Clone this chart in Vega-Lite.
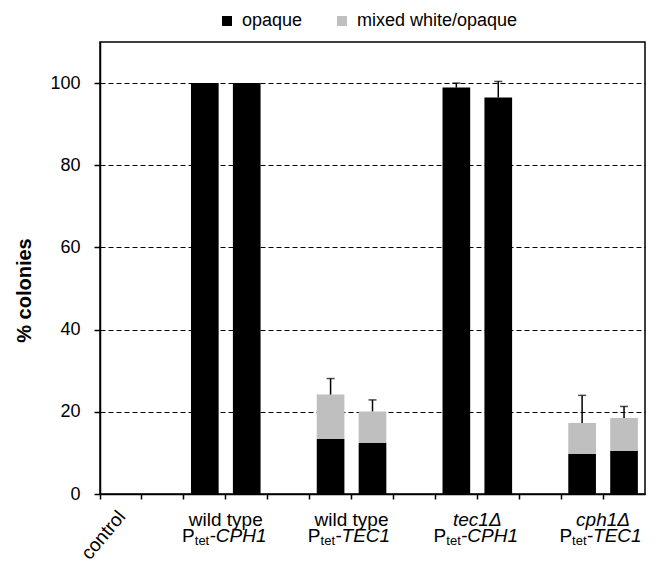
{
  "$schema": "https://vega.github.io/schema/vega-lite/v6.json",
  "width": 545,
  "height": 452,
  "autosize": {"type": "none"},
  "padding": {"left": 100, "top": 42, "right": 11, "bottom": 68},
  "background": "white",
  "config": {
    "view": {"stroke": "#000000", "strokeWidth": 1.5},
    "font": "Liberation Sans"
  },
  "datasets": {
    "bars": [
      {"cat": "control-1", "type": "opaque", "value": 0},
      {"cat": "control-1", "type": "mixed white/opaque", "value": 0},
      {"cat": "control-2", "type": "opaque", "value": 0},
      {"cat": "control-2", "type": "mixed white/opaque", "value": 0},
      {"cat": "wtCPH1-1", "type": "opaque", "value": 100},
      {"cat": "wtCPH1-1", "type": "mixed white/opaque", "value": 0},
      {"cat": "wtCPH1-2", "type": "opaque", "value": 100},
      {"cat": "wtCPH1-2", "type": "mixed white/opaque", "value": 0},
      {"cat": "wtTEC1-1", "type": "opaque", "value": 13.4},
      {"cat": "wtTEC1-1", "type": "mixed white/opaque", "value": 10.8},
      {"cat": "wtTEC1-2", "type": "opaque", "value": 12.4},
      {"cat": "wtTEC1-2", "type": "mixed white/opaque", "value": 7.7},
      {"cat": "tec1-1", "type": "opaque", "value": 98.9},
      {"cat": "tec1-1", "type": "mixed white/opaque", "value": 0},
      {"cat": "tec1-2", "type": "opaque", "value": 96.5},
      {"cat": "tec1-2", "type": "mixed white/opaque", "value": 0},
      {"cat": "cph1-1", "type": "opaque", "value": 9.8},
      {"cat": "cph1-1", "type": "mixed white/opaque", "value": 7.5},
      {"cat": "cph1-2", "type": "opaque", "value": 10.5},
      {"cat": "cph1-2", "type": "mixed white/opaque", "value": 8.0}
    ],
    "errors": [
      {"cat": "wtTEC1-1", "total": 24.2, "upper": 28.1},
      {"cat": "wtTEC1-2", "total": 20.1, "upper": 22.9},
      {"cat": "tec1-1", "total": 98.9, "upper": 100.0},
      {"cat": "tec1-2", "total": 96.5, "upper": 100.4},
      {"cat": "cph1-1", "total": 17.3, "upper": 24.0},
      {"cat": "cph1-2", "total": 18.5, "upper": 21.3}
    ],
    "labels": [
      {"cat": "wtCPH1-2", "strain": "wild type", "gene": "CPH1"},
      {"cat": "wtTEC1-2", "strain": "wild type", "gene": "TEC1"},
      {"cat": "tec1-2", "strain": "tec1Δ", "gene": "CPH1"},
      {"cat": "cph1-2", "strain": "cph1Δ", "gene": "TEC1"}
    ]
  },
  "layer": [
    {
      "data": {"name": "bars"},
      "mark": {"type": "bar", "width": {"band": 0.66}},
      "encoding": {
        "x": {
          "field": "cat",
          "type": "nominal",
          "scale": {
            "type": "band",
            "domain": ["control-1", "control-2", "wtCPH1-1", "wtCPH1-2", "gap-1", "wtTEC1-1", "wtTEC1-2", "gap-2", "tec1-1", "tec1-2", "gap-3", "cph1-1", "cph1-2"],
            "paddingInner": 0,
            "paddingOuter": 0
          },
          "axis": {
            "title": null,
            "bandPosition": 0,
            "grid": false,
            "ticks": true,
            "tickSize": 5,
            "tickColor": "#000000",
            "tickWidth": 1.5,
            "domainColor": "#000000",
            "domainWidth": 1.5,
            "labelExpr": "datum.value == 'control-2' ? 'control' : ''",
            "labelAngle": -50,
            "labelAlign": "right",
            "labelBaseline": "top",
            "labelOffset": -48,
            "labelPadding": 8,
            "labelFontSize": 19,
            "labelColor": "#000000",
            "labelFont": "Liberation Sans",
            "labelOverlap": false
          }
        },
        "y": {
          "field": "value",
          "type": "quantitative",
          "stack": "zero",
          "scale": {"domain": [0, 110], "nice": false},
          "axis": {
            "title": "% colonies",
            "values": [0, 20, 40, 60, 80, 100],
            "grid": true,
            "gridColor": "#000000",
            "gridDash": [5, 3],
            "gridWidth": 1.2,
            "tickSize": 6,
            "tickColor": "#000000",
            "tickWidth": 1.5,
            "domainColor": "#000000",
            "domainWidth": 1.5,
            "labelFontSize": 18,
            "labelPadding": 14,
            "labelColor": "#000000",
            "labelFont": "Liberation Sans",
            "titleFontSize": 20,
            "titleFontWeight": "bold",
            "titleColor": "#000000",
            "titleFont": "Liberation Sans",
            "titleX": -66,
            "titleY": 248,
            "titleBaseline": "bottom",
            "titleAngle": 270
          }
        },
        "color": {
          "field": "type",
          "type": "nominal",
          "scale": {"domain": ["opaque", "mixed white/opaque"], "range": ["#000000", "#bfbfbf"]},
          "legend": {
            "title": null,
            "orient": "none",
            "legendX": 118,
            "legendY": -30,
            "direction": "horizontal",
            "symbolType": "square",
            "symbolSize": 100,
            "symbolStrokeWidth": 0,
            "labelFontSize": 18,
            "labelFont": "Liberation Sans",
            "labelColor": "#000000",
            "labelOffset": 6,
            "labelLimit": 0,
            "columnPadding": 30,
            "padding": 0
          }
        },
        "order": {"field": "type", "sort": "descending"}
      }
    },
    {
      "data": {"name": "errors"},
      "mark": {"type": "rule", "color": "#000000", "strokeWidth": 1.5},
      "encoding": {
        "x": {"field": "cat", "type": "nominal", "scale": {"type": "band"}},
        "y": {"field": "total", "type": "quantitative"},
        "y2": {"field": "upper"}
      }
    },
    {
      "data": {"name": "errors"},
      "mark": {"type": "tick", "color": "#000000", "thickness": 1.5, "size": 8},
      "encoding": {
        "x": {"field": "cat", "type": "nominal", "scale": {"type": "band"}},
        "y": {"field": "upper", "type": "quantitative"}
      }
    },
    {
      "data": {"name": "labels"},
      "transform": [{"filter": "datum.strain == 'wild type'"}],
      "mark": {"type": "text", "align": "center", "baseline": "alphabetic", "fontSize": 19, "font": "Liberation Sans", "color": "#000000"},
      "encoding": {
        "x": {"field": "cat", "type": "nominal", "bandPosition": 0, "scale": {"type": "band"}},
        "y": {"datum": -7.7, "type": "quantitative"},
        "text": {"field": "strain"}
      }
    },
    {
      "data": {"name": "labels"},
      "transform": [{"filter": "datum.strain != 'wild type'"}],
      "mark": {"type": "text", "align": "center", "baseline": "alphabetic", "fontSize": 19, "fontStyle": "italic", "font": "Liberation Sans", "color": "#000000"},
      "encoding": {
        "x": {"field": "cat", "type": "nominal", "bandPosition": 0, "scale": {"type": "band"}},
        "y": {"datum": -7.7, "type": "quantitative"},
        "text": {"field": "strain"}
      }
    },
    {
      "data": {"name": "labels"},
      "mark": {"type": "text", "align": "right", "baseline": "alphabetic", "dx": -31, "fontSize": 19, "font": "Liberation Sans", "color": "#000000"},
      "encoding": {
        "x": {"field": "cat", "type": "nominal", "bandPosition": 0, "scale": {"type": "band"}},
        "y": {"datum": -11.6, "type": "quantitative"},
        "text": {"value": "P"}
      }
    },
    {
      "data": {"name": "labels"},
      "mark": {"type": "text", "align": "left", "baseline": "alphabetic", "dx": -31, "fontSize": 13, "font": "Liberation Sans", "color": "#000000"},
      "encoding": {
        "x": {"field": "cat", "type": "nominal", "bandPosition": 0, "scale": {"type": "band"}},
        "y": {"datum": -12.4, "type": "quantitative"},
        "text": {"value": "tet"}
      }
    },
    {
      "data": {"name": "labels"},
      "mark": {"type": "text", "align": "left", "baseline": "alphabetic", "dx": -16, "fontSize": 19, "font": "Liberation Sans", "color": "#000000"},
      "encoding": {
        "x": {"field": "cat", "type": "nominal", "bandPosition": 0, "scale": {"type": "band"}},
        "y": {"datum": -11.6, "type": "quantitative"},
        "text": {"value": "-"}
      }
    },
    {
      "data": {"name": "labels"},
      "mark": {"type": "text", "align": "left", "baseline": "alphabetic", "dx": -10, "fontSize": 19, "fontStyle": "italic", "font": "Liberation Sans", "color": "#000000"},
      "encoding": {
        "x": {"field": "cat", "type": "nominal", "bandPosition": 0, "scale": {"type": "band"}},
        "y": {"datum": -11.6, "type": "quantitative"},
        "text": {"field": "gene"}
      }
    }
  ]
}
